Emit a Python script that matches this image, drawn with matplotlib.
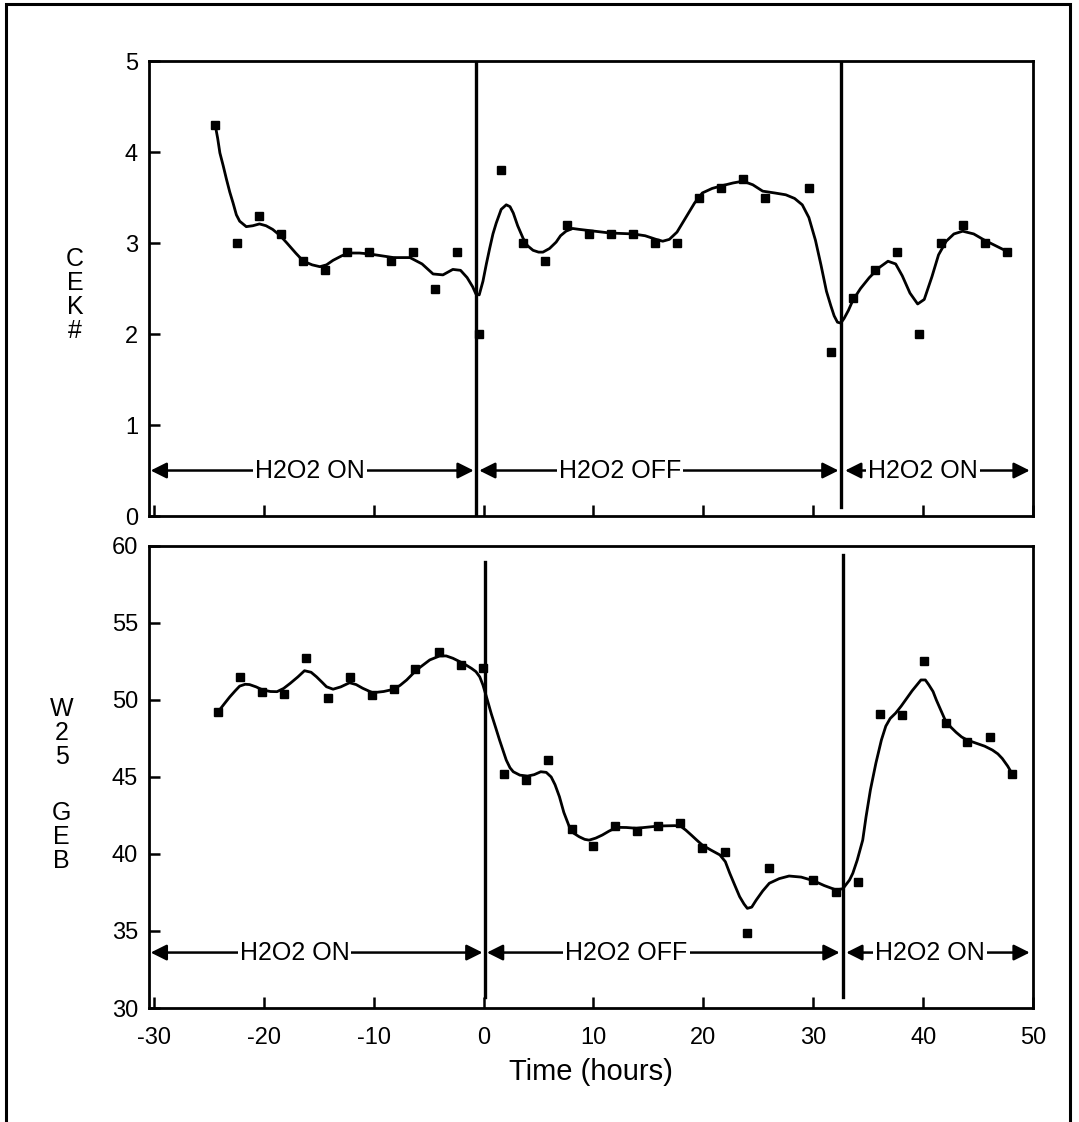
import matplotlib
matplotlib.use("Agg")
import matplotlib.pyplot as plt
from matplotlib.patches import Rectangle

plt.rcParams['font.family'] = ['Liberation Sans', 'DejaVu Sans']
plt.rcParams['axes.unicode_minus'] = False

# measured points (time in hours)
top_x = [-24.4, -22.4, -20.4, -18.4, -16.4, -14.4, -12.4, -10.4, -8.4, -6.4, -4.4, -2.4,
         -0.4, 1.6, 3.6, 5.6, 7.6, 9.6, 11.6, 13.6, 15.6, 17.6, 19.6, 21.6, 23.6, 25.6,
         29.6, 31.6, 33.6, 35.6, 37.6, 39.6, 41.6, 43.6, 45.6, 47.6]
top_y = [4.3, 3.0, 3.3, 3.1, 2.8, 2.7, 2.9, 2.9, 2.8, 2.9, 2.5, 2.9,
         2.0, 3.8, 3.0, 2.8, 3.2, 3.1, 3.1, 3.1, 3.0, 3.0, 3.5, 3.6, 3.7, 3.5,
         3.6, 1.8, 2.4, 2.7, 2.9, 2.0, 3.0, 3.2, 3.0, 2.9]

# smoothed curve
top_fit_x = [-24.4, -24.2, -24.0, -23.7, -23.4, -23.1, -22.8, -22.5, -22.2, -21.6, -21.0,
             -20.4, -19.8, -19.2, -18.5, -17.9, -17.1, -16.4, -15.6, -14.9, -14.3, -13.7,
             -12.9, -12.2, -11.3, -10.4, -9.3, -8.2, -6.7, -5.6, -4.6, -3.7, -2.8, -2.1,
             -1.5, -1.0, -0.7, -0.4, -0.06, 0.25, 0.55, 0.85, 1.15, 1.6, 2.06, 2.4, 2.7,
             3.1, 3.6, 4.0, 4.5, 5.0, 5.4, 6.0, 6.6, 7.0, 7.5, 8.1, 8.7, 10.1, 11.5, 13.6,
             14.7, 15.7, 16.3, 16.9, 17.6, 18.4, 19.2, 19.9, 20.8, 21.7, 22.7, 23.6, 24.5,
             25.4, 26.5, 27.5, 28.3, 29.0, 29.6, 30.2, 30.7, 31.2, 31.6, 31.9, 32.2, 32.5,
             32.8, 33.2, 33.6, 34.3, 35.1, 36.0, 36.8, 37.5, 38.1, 38.8, 39.5, 40.1, 40.8,
             41.4, 42.1, 42.8, 43.6, 44.6, 45.6, 46.6, 47.6]
top_fit_y = [4.28, 4.15, 3.99, 3.85, 3.70, 3.56, 3.44, 3.31, 3.24, 3.18, 3.19,
             3.21, 3.19, 3.15, 3.08, 3.0, 2.89, 2.80, 2.76, 2.74, 2.76, 2.81,
             2.86, 2.89, 2.89, 2.88, 2.86, 2.84, 2.84, 2.77, 2.66, 2.65, 2.71, 2.70,
             2.62, 2.52, 2.44, 2.43, 2.58, 2.77, 2.94, 3.10, 3.22, 3.37, 3.42, 3.40, 3.33,
             3.19, 3.05, 2.97, 2.92, 2.90, 2.90, 2.94, 3.01, 3.08, 3.13, 3.16, 3.15, 3.13, 3.11, 3.10,
             3.08, 3.04, 3.02, 3.04, 3.12, 3.28, 3.44, 3.55, 3.60, 3.63, 3.66, 3.68, 3.64,
             3.57, 3.55, 3.53, 3.49, 3.42, 3.28, 3.03, 2.76, 2.47, 2.31, 2.20, 2.13, 2.12,
             2.17, 2.26, 2.37, 2.50, 2.62, 2.73, 2.80, 2.77, 2.64, 2.45, 2.33, 2.38, 2.63,
             2.87, 3.02, 3.10, 3.13, 3.10, 3.03, 2.97, 2.91]

bot_x = [-24.2, -22.2, -20.2, -18.2, -16.2, -14.2, -12.2, -10.2, -8.2, -6.2, -4.1, -2.1, -0.1,
         1.9, 3.9, 5.9, 8.0, 10.0, 12.0, 14.0, 15.9, 17.9, 19.9, 22.0, 24.0, 26.0, 30.0, 32.1,
         34.1, 36.1, 38.1, 40.1, 42.1, 44.0, 46.1, 48.1]
bot_y = [49.2, 51.5, 50.5, 50.4, 52.7, 50.1, 51.5, 50.3, 50.7, 52.0, 53.1, 52.3, 52.1,
         45.2, 44.8, 46.1, 41.6, 40.5, 41.8, 41.5, 41.8, 42.0, 40.4, 40.1, 34.9, 39.1, 38.3, 37.5,
         38.2, 49.1, 49.0, 52.5, 48.5, 47.3, 47.6, 45.2]

bot_fit_x = [-24.2, -23.6, -23.1, -22.6, -22.2, -21.7, -21.3, -20.7, -20.1, -19.4, -18.8,
             -18.2, -17.6, -16.9, -16.3, -15.7, -15.2, -14.7, -14.3, -13.7, -13.0, -12.2,
             -11.6, -11.0, -10.1, -9.1, -8.2, -7.6, -7.0, -6.1, -4.9, -4.0, -3.4, -2.8, -2.2,
             -1.6, -1.1, -0.7, -0.35, -0.06, 0.3, 0.7, 1.1, 1.45, 2.06, 2.4, 2.7, 3.3, 4.0,
             4.6, 5.2, 5.7, 6.15, 6.5, 6.9, 7.3, 7.8, 8.2, 8.7, 9.2, 9.6, 10.2, 10.8, 11.4,
             12.1, 13.0, 13.9, 16.0, 17.4, 17.9, 18.4, 18.9, 19.4, 19.9, 20.7, 21.5, 22.0,
             22.4, 22.9, 23.3, 23.7, 24.0, 24.4, 24.8, 25.4, 26.0, 26.9, 27.8, 28.9, 30.0,
             31.0, 32.1, 32.7, 33.3, 33.6, 34.0, 34.5, 34.8, 35.2, 35.7, 36.2, 36.6, 37.0,
             37.5, 38.0, 38.5, 39.0, 39.4, 39.8, 40.2, 40.5, 40.9, 41.2, 41.6, 42.0, 42.5,
             43.0, 43.5, 44.0, 45.0, 45.6, 46.3, 46.8, 47.2, 47.7, 48.1]
bot_fit_y = [49.2, 49.75, 50.2, 50.6, 50.9, 51.02, 51.0, 50.85, 50.65, 50.55, 50.54,
             50.75, 51.08, 51.5, 51.9, 51.8, 51.5, 51.15, 50.86, 50.7, 50.85, 51.12,
             51.0, 50.76, 50.47, 50.55, 50.69, 50.95, 51.3, 51.95, 52.6, 52.86, 52.86, 52.71, 52.5,
             52.27, 52.05, 51.84, 51.5, 50.97, 50.1, 49.1, 48.2, 47.4, 46.1, 45.6, 45.34, 45.12, 45.06,
             45.15, 45.34, 45.3, 45.0, 44.5, 43.72, 42.7, 41.77, 41.35, 41.12, 40.95, 40.9, 41.03, 41.23, 41.48,
             41.73, 41.72, 41.67, 41.82, 41.84, 41.82, 41.55, 41.23, 40.9, 40.58, 40.25, 39.94, 39.5,
             38.75, 37.9, 37.23, 36.75, 36.47, 36.55, 37.0, 37.6, 38.1, 38.4, 38.57, 38.5, 38.27,
             37.95, 37.66, 37.75, 38.31, 38.75, 39.6, 40.9, 42.4, 44.16, 45.9, 47.4, 48.3, 48.8,
             49.15, 49.6, 50.1, 50.6, 50.95, 51.3, 51.3, 51.0, 50.55, 50.0, 49.35, 48.7, 48.25,
             47.9, 47.6, 47.4, 47.15, 47.0, 46.75, 46.5, 46.2, 45.7, 45.2]

# treatment periods: (label, start, end, text x)
top_periods = [("H2O2 ON", -30.3, -0.9, -15.8), ("H2O2 OFF", -0.4, 32.3, 12.4),
               ("H2O2 ON", 32.9, 49.7, 40.0)]
bot_periods = [("H2O2 ON", -30.3, -0.1, -17.2), ("H2O2 OFF", 0.3, 32.4, 13.0),
               ("H2O2 ON", 33.0, 49.7, 40.6)]


def draw_periods(ax, periods, y):
    for label, x0, x1, xt in periods:
        ax.annotate("", xy=(x0, y), xytext=(x1, y),
                    arrowprops=dict(arrowstyle="<|-|>", color="black", lw=1.8,
                                    mutation_scale=24, shrinkA=0, shrinkB=0))
        ax.text(xt, y, label, ha="center", va="center", fontsize=18,
                bbox=dict(facecolor="white", edgecolor="none", pad=1.5))


def style_axis(ax):
    for s in ax.spines.values():
        s.set_linewidth(2.0)
    ax.tick_params(direction="in", length=8, width=1.8, labelsize=17, pad=8)
    ax.set_xlim(-30.45, 49.9)
    ax.set_xticks([-30, -20, -10, 0, 10, 20, 30, 40, 50])


fig = plt.figure(figsize=(10.79, 11.22), dpi=100)

ax1 = fig.add_axes([0.1381, 0.5401, 0.8193, 0.4055])
style_axis(ax1)
ax1.set_ylim(0, 5)
ax1.set_yticks([0, 1, 2, 3, 4, 5])
ax1.tick_params(axis="x", labelbottom=False)
ax1.plot(top_fit_x, top_fit_y, color="black", lw=2.0, solid_joinstyle="round")
ax1.plot(top_x, top_y, "s", color="black", markersize=5.5)
ax1.axvline(-0.65, color="black", lw=2.4)
ax1.axvline(32.5, ymin=0.02, color="black", lw=2.4)
draw_periods(ax1, top_periods, 0.5)
fig.text(0.0695, 0.737, "C\nE\nK\n#", ha="center", va="center", fontsize=18, linespacing=1.0)

ax2 = fig.add_axes([0.1381, 0.1016, 0.8193, 0.4118])
style_axis(ax2)
ax2.set_ylim(30, 60)
ax2.set_yticks([30, 35, 40, 45, 50, 55, 60])
ax2.tick_params(axis="x", pad=14)
ax2.plot(bot_fit_x, bot_fit_y, color="black", lw=2.0, solid_joinstyle="round")
ax2.plot(bot_x, bot_y, "s", color="black", markersize=5.5)
ax2.axvline(0.1, ymin=0.024, ymax=0.965, color="black", lw=2.4)
ax2.axvline(32.7, ymin=0.024, ymax=0.98, color="black", lw=2.4)
draw_periods(ax2, bot_periods, 33.6)
ax2.set_xlabel("Time (hours)", fontsize=21, labelpad=6)
fig.text(0.057, 0.347, "W\n2\n5", ha="center", va="center", fontsize=18, linespacing=1.0)
fig.text(0.057, 0.254, "G\nE\nB", ha="center", va="center", fontsize=18, linespacing=1.0)

# outer frame of the scanned page
fig.patches.append(Rectangle((0.0056, -0.02), 0.986, 1.0164, transform=fig.transFigure,
                             fill=False, edgecolor="black", lw=2.2, clip_on=False))

fig.savefig("out.png", dpi=100)
